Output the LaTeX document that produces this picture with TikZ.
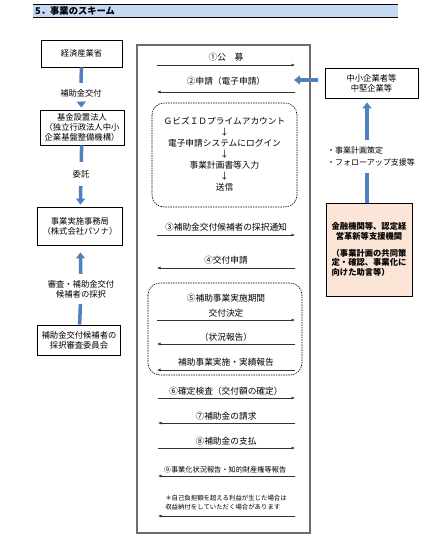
\documentclass[tikz,border=0pt]{standalone}
\usepackage{fontspec}
\setmainfont{Noto Sans CJK JP}
\usetikzlibrary{arrows.meta}

\definecolor{barblue}{HTML}{4F81BD}
\definecolor{headblue}{HTML}{C5D9F1}
\definecolor{peach}{HTML}{FBE5D6}
\definecolor{frame}{HTML}{6E6E6E}

\tikzset{
  orgbox/.style={draw, line width=0.8pt, fill=white, align=center, font=\fontsize{8.3}{10}\selectfont, inner sep=2pt},
  bluebar/.style={barblue, line width=3.5pt},
  bluearr/.style={barblue, line width=3.5pt, -{Triangle[length=6pt,width=9pt]}},
  flow/.style={line width=0.6pt, black!80, -{Latex[length=3.5pt,width=3pt]}},
  lbl/.style={font=\fontsize{8.7}{10}\selectfont, inner sep=1pt},
  dbox/.style={draw, dash pattern=on 1.5pt off 1pt, line width=0.6pt, rounded corners=12pt},
}

\begin{document}
\begin{tikzpicture}[x=1pt, y=-1pt]
    \useasboundingbox (0,0) rectangle (432,547);

    % 見出し
    \fill[headblue] (33,4) rectangle (398,17);
    \draw[line width=1pt] (33,4) -- (398,4);
    \draw[line width=0.6pt] (33,17) -- (398,17);
    \node[anchor=west, font=\fontsize{9.3}{10}\selectfont\bfseries, inner sep=0pt] (title) at (35,10.5) {5．事業のスキーム};

    % 左側の組織
    \node[orgbox, minimum width=81pt, minimum height=27pt] (meti) at (81.5,53.5) {経済産業省};
    \node[orgbox, minimum width=84pt, minimum height=35pt] (kikin) at (82,127.5) {基金設置法人\\（独立行政法人中小\\企業基盤整備機構）};
    \node[orgbox, minimum width=85pt, minimum height=38pt] (jimu) at (80,226) {事業実施事務局\\（株式会社パソナ）};
    \node[orgbox, minimum width=83pt, minimum height=30pt] (iin) at (79,340) {補助金交付候補者の\\採択審査委員会};

    % 左側の矢印とラベル
    \node[lbl, font=\fontsize{8.3}{10}\selectfont, inner sep=6pt] (koufu) at (81,93) {補助金交付};
    \draw[bluebar] (meti) -- (koufu);
    \draw[bluearr, shorten >=2pt] (koufu) -- (kikin);

    \node[lbl, font=\fontsize{8.3}{10}\selectfont, inner sep=8pt] (itaku) at (81,174) {委託};
    \draw[bluebar] (kikin) -- (itaku);
    \draw[bluearr, shorten >=2pt] (itaku) -- (jimu);

    \node[lbl, align=center, font=\fontsize{8.3}{10}\selectfont, inner sep=6pt] (shinsa) at (81,289) {審査・補助金交付\\候補者の採択};
    \draw[bluebar] (iin) -- (shinsa);
    \draw[bluearr, shorten >=7pt] (shinsa) -- (jimu);

    % 中央の枠
    \draw[frame, line width=1.3pt] (137,45) rectangle (310,533);

    % 矢印の両端
    \coordinate (L1) at (157,65);  \coordinate (R1) at (295,65);
    \coordinate (L2) at (157,92);  \coordinate (R2) at (295,92);
    \coordinate (L3) at (157,235); \coordinate (R3) at (295,235);
    \coordinate (L4) at (157,268); \coordinate (R4) at (295,268);
    \coordinate (L5) at (157,320); \coordinate (R5) at (295,320);
    \coordinate (L6) at (157,344); \coordinate (R6) at (295,344);
    \coordinate (L7) at (157,370); \coordinate (R7) at (295,370);
    \coordinate (L8) at (158,398); \coordinate (R8) at (295,398);
    \coordinate (L9) at (158,423); \coordinate (R9) at (295,423);
    \coordinate (L10) at (158,448); \coordinate (R10) at (295,448);
    \coordinate (L11) at (158,476); \coordinate (R11) at (295,476);
    \coordinate (L12) at (158,516); \coordinate (R12) at (295,516);

    % ①・②
    \node[lbl] (boshu) at (226,57) {①公　募};
    \draw[flow] (L1) -- (R1);
    \node[lbl] (shinsei) at (226,81) {②申請（電子申請）};
    \draw[flow] (R2) -- (L2);

    % 電子申請の流れ
    \draw[dbox] (152,103) rectangle (297,207);
    \node[lbl, align=center, font=\fontsize{8.7}{11}\selectfont] (gbiz) at (224.5,154) {ＧビズＩＤプライムアカウント\\↓\\電子申請システムにログイン\\↓\\事業計画書等入力\\↓\\送信};

    % ③・④
    \node[lbl] (tsuchi) at (226,227) {③補助金交付候補者の採択通知};
    \draw[flow] (L3) -- (R3);
    \node[lbl] (kshinsei) at (226,260) {④交付申請};
    \draw[flow] (R4) -- (L4);

    % ⑤補助事業実施期間
    \draw[dbox] (148,283) rectangle (302,375);
    \node[lbl] (kikan) at (226,298) {⑤補助事業実施期間};
    \node[lbl] (kettei) at (226,313) {交付決定};
    \draw[flow] (L5) -- (R5);
    \node[lbl] (jokyo) at (226,337) {（状況報告）};
    \draw[flow] (R6) -- (L6);
    \node[lbl] (jisseki) at (226,362) {補助事業実施・実績報告};
    \draw[flow] (R7) -- (L7);

    % ⑥〜⑨
    \node[lbl] (kakutei) at (226,391) {⑥確定検査（交付額の確定）};
    \draw[flow] (L8) -- (R8);
    \node[lbl] (seikyu) at (226,416) {⑦補助金の請求};
    \draw[flow] (R9) -- (L9);
    \node[lbl] (shiharai) at (226,441) {⑧補助金の支払};
    \draw[flow] (L10) -- (R10);
    \node[lbl, font=\fontsize{7.2}{9}\selectfont] (houkoku) at (225,470) {⑨事業化状況報告・知的財産権等報告};
    \draw[flow] (R11) -- (L11);
    \node[lbl, align=left, font=\fontsize{6.4}{9}\selectfont] (nofu) at (226,502.5) {＊自己負担額を超える利益が生じた場合は\\収益納付をしていただく場合があります};
    \draw[flow] (R12) -- (L12);

    % 右側の組織
    \node[orgbox, minimum width=93pt, minimum height=30pt] (chusho) at (371.5,83) {中小企業者等\\中堅企業等};
    \node[orgbox, fill=peach, minimum width=86pt, minimum height=93pt, font=\fontsize{8.3}{9.8}\selectfont\bfseries] (kinyu) at (369,249.5) {金融機関等、認定経\\営革新等支援機関\\[7pt]（事業計画の共同策\\定・確認、事業化に\\向けた助言等）\hphantom{ああ}};
    \coordinate (inbox) at (294,80);
    \draw[bluearr] (chusho.west |- inbox) ++(-7pt,0) -- (inbox);

    % 右側の矢印とラベル
    \node[lbl, align=left, anchor=west, font=\fontsize{8}{12}\selectfont] (shien) at (326,156) {・事業計画策定\\・フォローアップ支援等};
    \coordinate (upA) at (367,140);
    \coordinate (upB) at (367,173);
    \draw[bluearr, shorten >=4pt] (upA) -- (chusho.south -| upA);
    \draw[bluebar] (kinyu.north -| upB) -- (upB);
\end{tikzpicture}
\end{document}
